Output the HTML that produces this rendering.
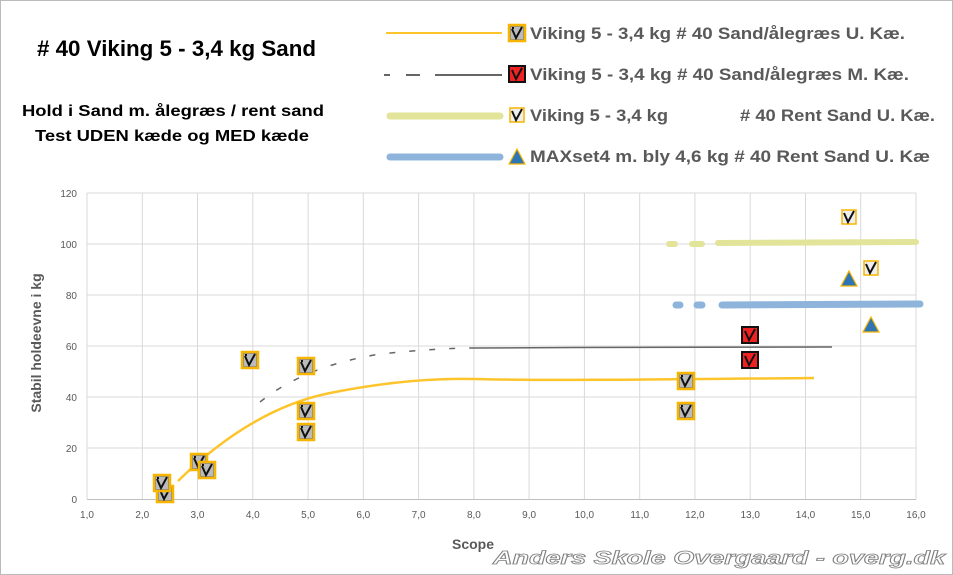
<!DOCTYPE html>
<html><head><meta charset="utf-8"><style>
body{margin:0;background:#fff}
svg{display:block;font-family:"Liberation Sans",sans-serif}
</style></head><body>
<svg width="953" height="575" viewBox="0 0 953 575">
<defs>
<g id="my"><rect x="-8" y="-8" width="16" height="16" fill="#888" stroke="#f7b500" stroke-width="2.5"/><rect x="-6" y="-6" width="12" height="12" fill="#bbb"/><path d="M-5,-4 L-1,5 L5,-6 M-5,-5 L-3,-5" stroke="#111" stroke-width="2" fill="none"/></g>
<g id="mr"><rect x="-8" y="-8" width="16" height="16" fill="#e22" stroke="#111" stroke-width="2"/><path d="M-5,-4 L-1,5 L5,-6" stroke="#111" stroke-width="2" fill="none"/></g>
<g id="mw"><rect x="-7" y="-7" width="14" height="14" fill="#eee" stroke="#f7b500" stroke-width="1.5"/><path d="M-5,-4 L-1,5 L5,-6" stroke="#111" stroke-width="2" fill="none"/></g>
<g id="tr"><path d="M0,-9 L8,6 L-8,6 Z" fill="#2e75b6" stroke="#f7b500" stroke-width="1.2"/></g>
</defs>
<rect x="0.5" y="0.5" width="952" height="574" fill="#fff" stroke="#bbb"/>
<text x="37" y="56" font-size="22" font-weight="bold" fill="#000" textLength="279" lengthAdjust="spacingAndGlyphs">#  40 Viking 5 - 3,4 kg Sand</text>
<text x="22" y="116" font-size="16" font-weight="bold" fill="#000" textLength="302" lengthAdjust="spacingAndGlyphs">Hold i Sand m. ålegræs / rent sand</text>
<text x="35" y="141" font-size="16" font-weight="bold" fill="#000" textLength="274" lengthAdjust="spacingAndGlyphs">Test UDEN kæde og MED kæde</text>
<!-- legend -->
<g font-size="17" font-weight="bold" fill="#595959">
<line x1="386" y1="33" x2="502" y2="33" stroke="#fec42c" stroke-width="2"/>
<use href="#my" x="517" y="33"/>
<text x="530" y="39" textLength="375" lengthAdjust="spacingAndGlyphs">Viking 5 - 3,4 kg # 40 Sand/ålegræs  U. Kæ.</text>
<path d="M384,75 h6 M406,75 h14 M435,75 h67" stroke="#666" stroke-width="2"/>
<use href="#mr" x="517" y="74"/>
<text x="530" y="80" textLength="379" lengthAdjust="spacingAndGlyphs">Viking 5 - 3,4 kg # 40 Sand/ålegræs  M. Kæ.</text>
<line x1="390" y1="116" x2="500" y2="116" stroke="#e2e49a" stroke-width="7" stroke-linecap="round"/>
<use href="#mw" x="517" y="115"/>
<text x="530" y="121" textLength="138" lengthAdjust="spacingAndGlyphs">Viking 5 - 3,4 kg</text>
<text x="740" y="121" textLength="195" lengthAdjust="spacingAndGlyphs">#  40 Rent Sand U. Kæ.</text>
<line x1="390" y1="157" x2="500" y2="157" stroke="#8fb4dc" stroke-width="7" stroke-linecap="round"/>
<use href="#tr" x="517" y="158"/>
<text x="530" y="162" textLength="400" lengthAdjust="spacingAndGlyphs">MAXset4 m. bly 4,6 kg  # 40 Rent Sand  U. Kæ</text>
</g>
<!-- grid -->
<g stroke="#d9d9d9" stroke-width="1">
<path d="M87,193H916M87,244H916M87,295H916M87,346H916M87,397H916M87,448H916"/>
<path d="M87,193V499M142.3,193V499M197.5,193V499M252.8,193V499M308.1,193V499M363.3,193V499M418.6,193V499M473.9,193V499M529.1,193V499M584.4,193V499M639.7,193V499M694.9,193V499M750.2,193V499M805.5,193V499M860.7,193V499M916,193V499"/>
</g>
<line x1="87" y1="499.5" x2="916" y2="499.5" stroke="#bfbfbf"/>
<g font-size="10" fill="#595959" text-anchor="end">
<text x="77" y="503">0</text><text x="77" y="452">20</text><text x="77" y="401">40</text><text x="77" y="350">60</text><text x="77" y="299">80</text><text x="77" y="248">100</text><text x="77" y="197">120</text>
</g>
<g font-size="10" fill="#595959" text-anchor="middle">
<text x="87" y="518">1,0</text><text x="142.3" y="518">2,0</text><text x="197.5" y="518">3,0</text><text x="252.8" y="518">4,0</text><text x="308.1" y="518">5,0</text><text x="363.3" y="518">6,0</text><text x="418.6" y="518">7,0</text><text x="473.9" y="518">8,0</text><text x="529.1" y="518">9,0</text><text x="584.4" y="518">10,0</text><text x="639.7" y="518">11,0</text><text x="694.9" y="518">12,0</text><text x="750.2" y="518">13,0</text><text x="805.5" y="518">14,0</text><text x="860.7" y="518">15,0</text><text x="916" y="518">16,0</text>
</g>
<text x="473" y="549" font-size="14" font-weight="bold" fill="#595959" text-anchor="middle">Scope</text>
<text transform="translate(41,343) rotate(-90)" font-size="14" font-weight="bold" fill="#595959" text-anchor="middle">Stabil holdeevne i kg</text>
<!-- series lines -->
<path d="M669,244h6 M692,244h10 M718,243 L916,242" stroke="#e2e49a" stroke-width="6" stroke-linecap="round" fill="none"/>
<path d="M676,305h4 M697,305h5 M722,305 L920,304" stroke="#8fb4dc" stroke-width="7" stroke-linecap="round" fill="none"/>
<path d="M178,481 C220,440 270,405 330,393 C380,383 430,378 474,379 C550,381 700,379 814,378" stroke="#fec42c" stroke-width="2.5" fill="none"/>
<path d="M260,402 C290,378 330,362 380,354 C420,350 450,348 474,348" stroke="#666" stroke-width="1.5" stroke-dasharray="6 14" fill="none"/>
<path d="M474,348 C600,347 750,348 832,347" stroke="#666" stroke-width="1.5" fill="none"/>
<!-- markers -->
<use href="#my" x="165" y="494"/><use href="#my" x="162" y="483"/>
<use href="#my" x="199" y="462"/><use href="#my" x="207" y="470"/>
<use href="#my" x="250" y="360"/><use href="#my" x="306" y="366"/>
<use href="#my" x="306" y="411"/><use href="#my" x="306" y="432"/>
<use href="#my" x="686" y="381"/><use href="#my" x="686" y="411"/>
<use href="#mr" x="750" y="335"/><use href="#mr" x="750" y="360"/>
<use href="#mw" x="849" y="217"/><use href="#mw" x="871" y="268"/>
<use href="#tr" x="849" y="280"/><use href="#tr" x="871" y="326"/>
<text x="493" y="564" font-size="18" font-weight="bold" font-style="italic" fill="#fff" stroke="#7f7f7f" stroke-width="0.8" textLength="452" lengthAdjust="spacingAndGlyphs">Anders Skole Overgaard - overg.dk</text>
</svg>
</body></html>
